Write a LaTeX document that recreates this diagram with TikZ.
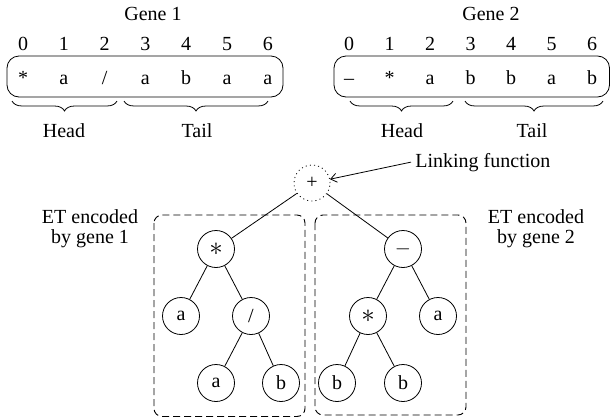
\documentclass[tikz,border=0pt]{standalone}
\usepackage{fontspec}
\setmainfont{Liberation Serif}
\usetikzlibrary{positioning,decorations.pathreplacing,arrows.meta}

\tikzset{
  sym/.style={inner sep=0pt,anchor=base},
  et/.style={circle,draw,minimum size=37pt,inner sep=0pt},
  etbox/.style={draw,line width=0.9pt,dash pattern=on 7pt off 4pt,rounded corners=8pt},
  brc/.style={decorate,decoration={brace,mirror,amplitude=10pt}},
}
\newcommand{\bigast}{\scalebox{1.3}{$\ast$}}

\begin{document}
\begin{tikzpicture}[x=1pt,y=-1pt,line width=0.8pt,
    font=\fontsize{20}{20}\selectfont,node distance=67pt and 35pt,on grid]
  \useasboundingbox (0,0) rectangle (611,418);
  % gene 1
  \node[sym] (G1) at (153,20) {Gene 1};
  \foreach \s [count=\i from 0] in {*,a,/,a,b,a,a}{
    \node[sym] (g1n\i) at (23+40.8*\i,50) {\i};
    \node[sym] (g1s\i) at (23+40.8*\i,84) {\s};
  }
  \draw[rounded corners=12pt] (7,56) rectangle (283,97);
  \draw[brc] (12,101) -- (117,101);
  \draw[brc] (124,101) -- (268,101);
  \node[sym] (H1) at (64,137) {Head};
  \node[sym] (T1) at (197,137) {Tail};
  % gene 2
  \node[sym] (G2) at (491,20) {Gene 2};
  \foreach \s [count=\i from 0] in {--,*,a,b,b,a,b}{
    \node[sym] (g2n\i) at (349+40.5*\i,50) {\i};
    \node[sym] (g2s\i) at (349+40.5*\i,84) {\s};
  }
  \draw[rounded corners=12pt] (334,56) rectangle (609.5,97);
  \draw[brc] (350,101) -- (453,101);
  \draw[brc] (465,101) -- (603,101);
  \node[sym] (H2) at (402,137) {Head};
  \node[sym] (T2) at (532,137) {Tail};
  % linking function
  \node[et,minimum size=36pt,dash pattern=on 1pt off 3.2pt] (plus) at (312,183) {+};
  \node[inner sep=4pt,anchor=base west] (L) at (411,167) {Linking function};
  \draw[-{Straight Barb[length=6pt,width=9pt]}] (L.west) -- (plus);
  % expression trees
  \draw[etbox] (154,215) rectangle (305,416.5);
  \draw[etbox] (315,215) rectangle (466,415);
  \node[align=center] (E1) at (90,229) {ET encoded\\by gene 1};
  \node[align=center] (E2) at (536,229) {ET encoded\\by gene 2};
  \node[et] (m1) at (216,249) {\bigast};
  \node[et,below left=of m1] (a1) {a};
  \node[et,below right=of m1] (d1) {/};
  \node[et,below left=of d1] (a2) {a};
  \node[et,below right=67pt and 30pt of d1] (b1) {b};
  \node[et] (s2) at (403,249) {$-$};
  \node[et,below left=of s2] (m2) {\bigast};
  \node[et,below right=of s2] (a3) {a};
  \node[et,below left=67pt and 31pt of m2] (b2) {b};
  \node[et,below right=of m2] (b3) {b};
  \draw (plus) -- (m1);
  \draw (plus) -- (s2);
  \draw (m1) -- (a1);
  \draw (m1) -- (d1);
  \draw (d1) -- (a2);
  \draw (d1) -- (b1);
  \draw (s2) -- (m2);
  \draw (s2) -- (a3);
  \draw (m2) -- (b2);
  \draw (m2) -- (b3);
\end{tikzpicture}
\end{document}
